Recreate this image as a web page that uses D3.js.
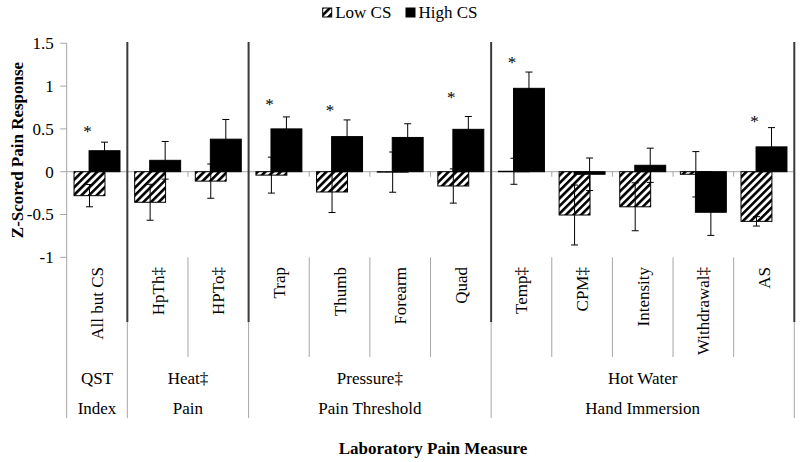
<!DOCTYPE html>
<html><head><meta charset="utf-8">
<script src="https://cdn.jsdelivr.net/npm/d3@7"></script>
<style>
html,body{margin:0;padding:0;background:#fff;}
svg text{font-family:"Liberation Serif","Times New Roman","DejaVu Serif",serif;fill:#000;}
</style></head>
<body><svg id="chart" width="800" height="462"></svg>
<script>
const categories = ["All but CS","HpTh‡","HPTo‡","Trap","Thumb","Forearm","Quad","Temp‡","CPM‡","Intensity","Withdrawal‡","AS"];
const lowValues  = [-0.28,-0.357,-0.11,-0.04,-0.237,-0.005,-0.167,0.005,-0.506,-0.41,-0.03,-0.58];
const lowErr     = [0.13,0.21,0.20,0.21,0.24,0.235,0.20,0.152,0.35,0.28,0.265,0.055];
const highValues = [0.245,0.133,0.38,0.50,0.41,0.40,0.495,0.974,-0.03,0.075,-0.474,0.29];
const highErr    = [0.10,0.22,0.23,0.14,0.195,0.16,0.15,0.19,0.19,0.20,0.27,0.225];
const starCats   = [0,3,4,6,7,11];
const starValues = [0.50,0.82,0.75,0.90,1.31,0.62];
const groupLine1 = ["QST","Heat‡","Pressure‡","Hot Water"];
const groupLine2 = ["Index","Pain","Pain Threshold","Hand Immersion"];
const groupSizes = [1,2,4,5];
const yTicks = [-1,-0.5,0,0.5,1,1.5];
const yTickLabels = ["-1","-0.5","0","0.5","1","1.5"];
const seriesNames = ["Low CS","High CS"];

(function(){
const svg = d3.select("#chart");
const pLeft = 66.7, pRight = 794.3, pTop = 43.3, pBottom = 257.3;
const x = d3.scaleBand().domain(d3.range(categories.length)).range([pLeft,pRight]).padding(0);
const y = d3.scaleLinear().domain([-1,1.5]).range([pBottom,pTop]);
const bw = x.bandwidth();
const barW = bw*0.51, off = bw*0.124;
const gray = "#a6a6a6";

const defs = svg.append("defs");
const pat = defs.append("pattern").attr("id","hatch").attr("patternUnits","userSpaceOnUse")
  .attr("width",5.4).attr("height",5.4).attr("patternTransform","rotate(45)");
pat.append("rect").attr("width",5.4).attr("height",5.4).attr("fill","#fff");
pat.append("line").attr("x1",1.3).attr("x2",1.3).attr("y1",0).attr("y2",5.4).attr("stroke","#000").attr("stroke-width",2.6);

let cum = 0; const groupBounds = [0];
groupSizes.forEach(s=>{cum+=s; groupBounds.push(cum);});
const bx = i => i < categories.length ? x(i) : pRight;

svg.append("line").attr("x1",pLeft).attr("x2",pLeft).attr("y1",pTop).attr("y2",418).attr("stroke",gray);
yTicks.forEach((t,k)=>{
  svg.append("line").attr("x1",pLeft-6.5).attr("x2",pLeft).attr("y1",y(t)).attr("y2",y(t)).attr("stroke",gray);
  svg.append("text").attr("x",pLeft-13).attr("y",y(t)).attr("dy","0.35em").attr("text-anchor","end")
    .style("font-size","17px").text(yTickLabels[k]);
});
svg.append("line").attr("x1",pLeft).attr("x2",pRight).attr("y1",y(0)).attr("y2",y(0)).attr("stroke",gray);
d3.range(1,categories.length+1).forEach(i=>{
  svg.append("line").attr("x1",bx(i)).attr("x2",bx(i)).attr("y1",y(0)).attr("y2",y(0)+5).attr("stroke",gray);
});
d3.range(1,categories.length).forEach(i=>{
  if(!groupBounds.includes(i)){
    svg.append("line").attr("x1",bx(i)).attr("x2",bx(i)).attr("y1",pBottom).attr("y2",357).attr("stroke",gray);
  }
});
groupBounds.slice(1).forEach(i=>{
  svg.append("line").attr("x1",bx(i)).attr("x2",bx(i)).attr("y1",322).attr("y2",418).attr("stroke",gray);
  svg.append("line").attr("x1",bx(i)).attr("x2",bx(i)).attr("y1",42).attr("y2",322).attr("stroke","#3a3a3a").attr("stroke-width",2);
});

function bars(vals, cls, fill, dx){
  svg.selectAll("rect."+cls).data(vals).enter().append("rect").attr("class",cls)
    .attr("x",(d,i)=>x(i)+bw/2+dx-barW/2).attr("width",barW)
    .attr("y",d=>y(Math.max(0,d))).attr("height",d=>Math.abs(y(d)-y(0)))
    .attr("fill",fill).attr("stroke","#000").attr("stroke-width",1);
}
function errs(vals, errv, dx){
  const g = svg.append("g").attr("stroke","#000").attr("stroke-width",1);
  vals.forEach((v,i)=>{
    const cx = x(i)+bw/2+dx;
    g.append("line").attr("x1",cx).attr("x2",cx).attr("y1",y(v-errv[i])).attr("y2",y(v+errv[i]));
    [v-errv[i], v+errv[i]].forEach(e=>{
      g.append("line").attr("x1",cx-3.5).attr("x2",cx+3.5).attr("y1",y(e)).attr("y2",y(e));
    });
  });
}
bars(lowValues,"low","url(#hatch)",-off);
errs(lowValues,lowErr,-off);
bars(highValues,"high","#000",off);
errs(highValues,highErr,off);

starCats.forEach((c,k)=>{
  svg.append("text").attr("x",x(c)+bw/2-off-2).attr("y",y(starValues[k])+8.5).attr("text-anchor","middle")
    .style("font-size","17px").text("*");
});

categories.forEach((c,i)=>{
  svg.append("text").attr("transform",`translate(${x(i)+bw/2},267) rotate(-90)`)
    .attr("text-anchor","end").attr("dy","0.35em").style("font-size","17px").text(c);
});
groupSizes.forEach((s,g)=>{
  const cx = (bx(groupBounds[g])+bx(groupBounds[g+1]))/2;
  svg.append("text").attr("x",cx).attr("y",378).attr("dy","0.35em").attr("text-anchor","middle").style("font-size","17px").text(groupLine1[g]);
  svg.append("text").attr("x",cx).attr("y",408).attr("dy","0.35em").attr("text-anchor","middle").style("font-size","17px").text(groupLine2[g]);
});

svg.append("text").attr("x",433).attr("y",448).attr("dy","0.35em").attr("text-anchor","middle")
  .style("font-size","17px").style("font-weight","bold").text("Laboratory Pain Measure");
svg.append("text").attr("transform",`translate(17,150) rotate(-90)`).attr("dy","0.35em").attr("text-anchor","middle")
  .style("font-size","17px").style("font-weight","bold").text("Z-Scored Pain Response");

const legX = [322.7, 406];
seriesNames.forEach((n,i)=>{
  svg.append("rect").attr("x",legX[i]).attr("y",8).attr("width",9).attr("height",9)
    .attr("fill", i===0 ? "url(#hatch)" : "#000").attr("stroke","#000");
  svg.append("text").attr("x",legX[i]+12.5).attr("y",18).style("font-size","17px").text(n);
});
})();
</script></body></html>
